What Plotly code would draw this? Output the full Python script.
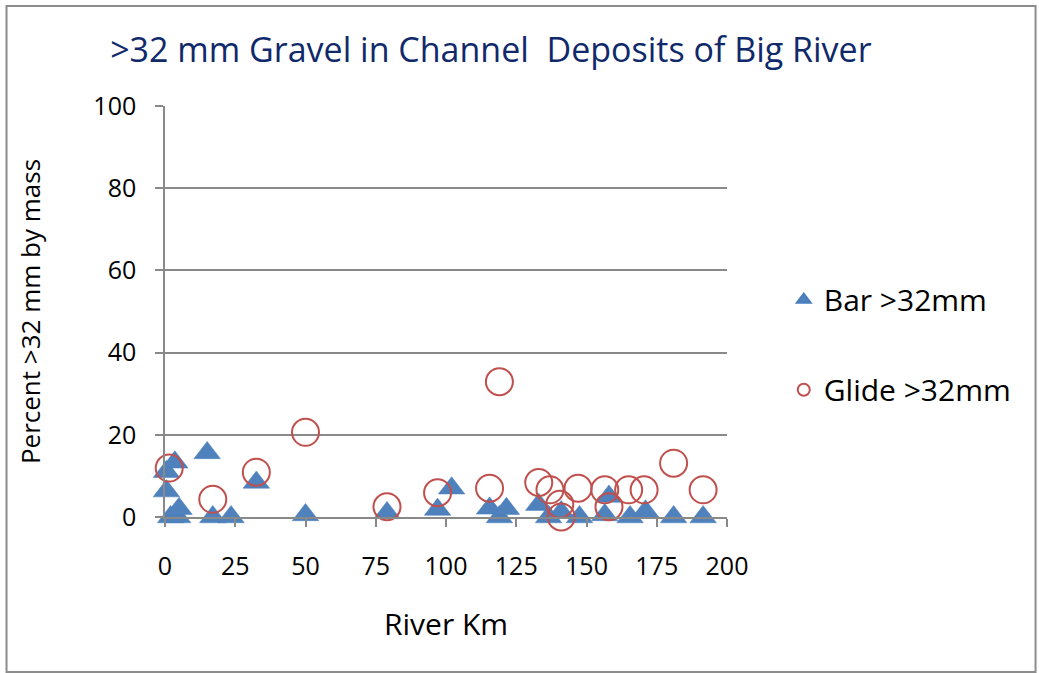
import plotly.graph_objects as go

# River km / percent >32 mm
bar_km = [0.5, 3.5, 0.5, 2, 4.5, 5, 15, 17, 23.5, 32.5, 50, 79, 97, 102,
          115.5, 119, 121.5, 133, 136.5, 141, 147.5, 156.5, 158, 165.5, 171, 181, 191.5]
bar_pct = [11, 13.3, 6.3, 0, 0, 2, 15.6, 0, 0, 8.4, 0.5, 1, 1.8, 7,
           2.1, 0, 2, 3, 0, 1.2, 0, 0.5, 5, 0, 1.4, 0, 0]

glide_km = [1.5, 17, 32.5, 50, 79, 97, 115.5, 119, 133, 137, 140.5, 141,
            147, 156.5, 158, 165, 170.5, 181, 191.5]
glide_pct = [11.9, 4.3, 10.9, 20.6, 2.5, 5.9, 7, 32.9, 8.4, 6.6, 3.1, 0,
             7, 6.6, 2.5, 6.6, 6.6, 13.1, 6.6]

x_ticks = [0, 25, 50, 75, 100, 125, 150, 175, 200]
y_ticks = [0, 20, 40, 60, 80, 100]

FONT = "Open Sans, sans-serif"
GRID = "#898989"

fig = go.Figure()

fig.add_trace(go.Scatter(
    x=bar_km, y=bar_pct, mode="markers", name="Bar >32mm",
    legendgroup="bar", cliponaxis=False,
    marker=dict(symbol="triangle-up", size=23, color="#4F81BD",
                line=dict(color="#4A7EBB", width=0.5)),
))
fig.add_trace(go.Scatter(
    x=glide_km, y=glide_pct, mode="markers", name="Glide >32mm",
    legendgroup="glide", cliponaxis=False,
    marker=dict(symbol="circle", size=27, color="rgba(0,0,0,0)",
                line=dict(color="#C0504D", width=2)),
))

fig.update_xaxes(
    range=[0, 200], tickvals=x_ticks, showgrid=False, zeroline=False,
    showline=True, linecolor=GRID, linewidth=1.5,
    ticks="outside", ticklen=8, tickcolor=GRID, tickwidth=1.5,
    ticklabelstandoff=18, tickfont=dict(size=25, color="black", family=FONT),
)
fig.update_yaxes(
    range=[0, 100], tickvals=y_ticks, showgrid=True, gridcolor=GRID, gridwidth=1.5,
    zeroline=False, showline=True, linecolor=GRID, linewidth=1.5,
    ticks="outside", ticklen=8, tickcolor=GRID, tickwidth=1.5,
    ticklabelstandoff=14, tickfont=dict(size=25, color="black", family=FONT),
)

fig.update_layout(
    width=1039, height=673,
    margin=dict(l=165, r=312, t=106, b=156),
    paper_bgcolor="white", plot_bgcolor="white",
    font=dict(family=FONT, color="black"),
    title=dict(text=">32 mm Gravel in Channel  Deposits of Big River",
               x=0.106, xanchor="left", y=0.926, yanchor="middle",
               font=dict(size=34, color="#10296A", family=FONT)),
    showlegend=True,
    legend=dict(x=1.101, xanchor="left", y=0.592, yanchor="top",
                font=dict(size=30, family=FONT), tracegroupgap=48,
                itemsizing="constant", bgcolor="rgba(0,0,0,0)"),
    annotations=[
        dict(text="River Km", xref="paper", yref="paper", x=0.5, y=-0.258,
             showarrow=False, xanchor="center", yanchor="middle",
             font=dict(size=30, family=FONT)),
        dict(text="Percent >32 mm by mass", xref="paper", yref="paper",
             x=-0.241, y=0.5, textangle=-90, showarrow=False,
             xanchor="center", yanchor="middle",
             font=dict(size=26, family=FONT)),
    ],
    shapes=[dict(type="rect", xref="paper", yref="paper",
                 x0=-0.282, x1=1.549, y0=-0.3771, y1=1.2433,
                 line=dict(color="#8C8C8C", width=2))],
)

fig.write_html("out.html", config={"displayModeBar": False},
               post_script="document.body.style.margin='0';")
